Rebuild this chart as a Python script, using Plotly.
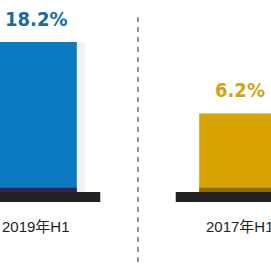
import plotly.graph_objects as go

categories = ["2019年H1", "2017年H1"]
values = [18.2, 6.2]
value_labels = ["18.2%", "6.2%"]
bar_colors = ["#0b7ac0", "#d8a200"]
text_colors = ["#1a6aa3", "#d4a210"]
strip_colors = ["#3a1f4c", "#8c6a00"]

BASE = -7.0
BAR_W = 0.40
PLINTH_W = 0.63

fig = go.Figure()
# soft shadow behind bars
fig.add_trace(go.Bar(
    x=categories, y=[v - BASE for v in values], base=BASE,
    marker=dict(color="rgba(0,0,0,0.05)", line=dict(width=0)),
    width=BAR_W + 0.04, offset=-BAR_W / 2, hoverinfo="skip",
))
fig.add_trace(go.Bar(
    x=categories, y=[v - BASE for v in values], base=BASE,
    marker=dict(color=bar_colors, line=dict(width=0)),
    width=BAR_W, offset=-BAR_W / 2, hoverinfo="skip",
))

shapes = []
annotations = []
for i, (cat, v) in enumerate(zip(categories, values)):
    shapes.append(dict(type="rect", xref="x", yref="y",
                       x0=i - BAR_W / 2, x1=i + BAR_W / 2, y0=BASE, y1=BASE + 0.7,
                       fillcolor=strip_colors[i], line=dict(width=0), layer="above"))
    shapes.append(dict(type="rect", xref="x", yref="y",
                       x0=i - PLINTH_W / 2, x1=i + PLINTH_W / 2, y0=BASE - 1.7, y1=BASE,
                       fillcolor="#222222", line=dict(width=0), layer="above"))
    annotations.append(dict(x=cat, y=v, xref="x", yref="y", text="<b>" + value_labels[i] + "</b>",
                            showarrow=False, yanchor="bottom", yshift=9,
                            font=dict(family="DejaVu Sans Condensed, DejaVu Sans, sans-serif",
                                      size=20, color=text_colors[i])))
    annotations.append(dict(x=cat, y=0.166, xref="x", yref="paper", text=cat,
                            showarrow=False, yanchor="middle",
                            font=dict(family="Liberation Sans, Noto Sans CJK SC, sans-serif",
                                      size=15, color="#222222")))

shapes.append(dict(type="line", xref="x", yref="paper", x0=0.5, x1=0.5, y0=0.033, y1=0.945,
                   line=dict(color="#777777", width=1.5, dash="5px,5px")))

fig.update_layout(
    width=271, height=271, margin=dict(l=0, r=0, t=0, b=0),
    paper_bgcolor="white", plot_bgcolor="white", showlegend=False, barmode="overlay",
    xaxis=dict(type="category", range=[-0.1765, 1.152], visible=False),
    yaxis=dict(range=[-20.28, 25.27], visible=False),
    shapes=shapes, annotations=annotations,
)
fig.write_html("out.html")
